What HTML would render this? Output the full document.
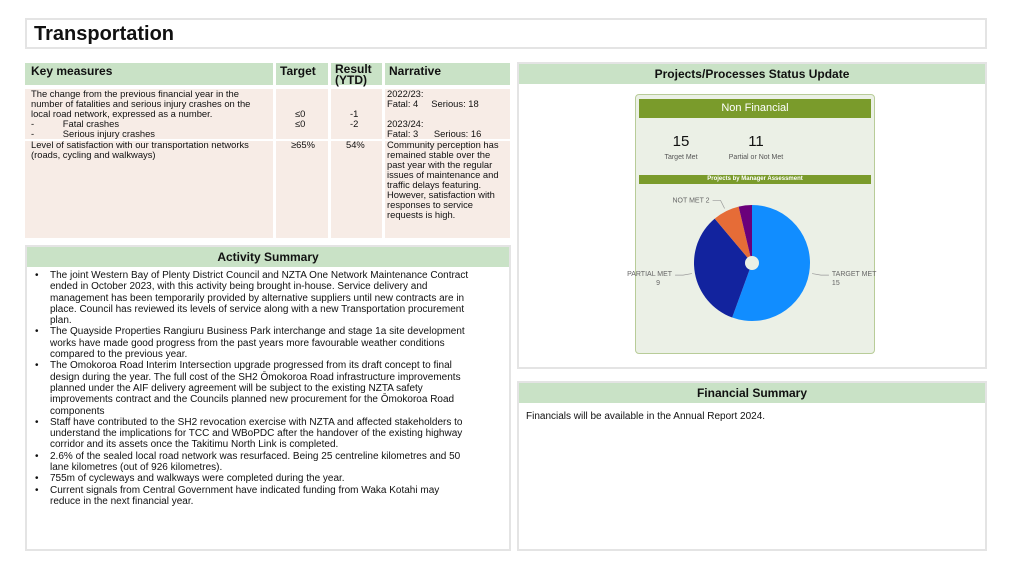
<!DOCTYPE html>
<html><head><meta charset="utf-8">
<style>
*{box-sizing:border-box;margin:0;padding:0}
body{width:1011px;height:569px;background:#fff;font-family:"Liberation Sans",sans-serif;color:#111;position:relative;overflow:hidden}
.box{position:absolute;border:1px solid #e2e2e2;background:#fff}
.hdr{position:absolute;background:#c9e2c6;font-weight:bold;font-size:12px;text-align:center}
.t{position:absolute;font-size:9.4px;line-height:10px;white-space:nowrap}
.cell{position:absolute;background:#f7ece6}
ul{list-style:none}
li{position:relative;padding-left:23px;font-size:10px;line-height:11.3px;white-space:nowrap}
li:before{content:"•";position:absolute;left:8px}
</style></head><body>
<div class="box" style="left:25px;top:18px;width:962px;height:31px;border:2px solid #e4e4e4">
 <div style="position:absolute;left:7px;top:3px;font-size:20px;font-weight:bold">Transportation</div>
</div>

<div class="box" style="left:23px;top:61px;width:490px;height:180px;border:none">
 <div class="hdr" style="left:2px;top:2px;width:248px;height:22px;text-align:left;padding:1px 6px">Key measures</div>
 <div class="hdr" style="left:253px;top:2px;width:52px;height:22px;text-align:left;padding:1px 4px">Target</div>
 <div class="hdr" style="left:308px;top:2px;width:51px;height:22px;text-align:left;padding:1px 4px;line-height:11px">Result<br>(YTD)</div>
 <div class="hdr" style="left:362px;top:2px;width:125px;height:22px;text-align:left;padding:1px 4px">Narrative</div>
 <div class="cell" style="left:2px;top:28px;width:248px;height:149px"></div>
 <div class="cell" style="left:253px;top:28px;width:52px;height:149px"></div>
 <div class="cell" style="left:308px;top:28px;width:51px;height:149px"></div>
 <div class="cell" style="left:362px;top:28px;width:125px;height:149px"></div>
 <div style="position:absolute;left:2px;top:78px;width:485px;height:2px;background:#fff"></div>
 <div class="t" style="left:8px;top:28px">The change from the previous financial year in the<br>number of fatalities and serious injury crashes on the<br>local road network, expressed as a number.<br>-&nbsp;&nbsp;&nbsp;&nbsp;&nbsp;&nbsp;&nbsp;&nbsp;&nbsp;&nbsp;&nbsp;Fatal crashes<br>-&nbsp;&nbsp;&nbsp;&nbsp;&nbsp;&nbsp;&nbsp;&nbsp;&nbsp;&nbsp;&nbsp;Serious injury crashes</div>
 <div class="t" style="left:272px;top:48px">≤0<br>≤0</div>
 <div class="t" style="left:327px;top:48px">-1<br>-2</div>
 <div class="t" style="left:364px;top:28px">2022/23:<br>Fatal: 4&nbsp;&nbsp;&nbsp;&nbsp;&nbsp;Serious: 18<br><br>2023/24:<br>Fatal: 3&nbsp;&nbsp;&nbsp;&nbsp;&nbsp;&nbsp;Serious: 16</div>
 <div class="t" style="left:8px;top:79px">Level of satisfaction with our transportation networks<br>(roads, cycling and walkways)</div>
 <div class="t" style="left:268px;top:79px">≥65%</div>
 <div class="t" style="left:323px;top:79px">54%</div>
 <div class="t" style="left:364px;top:79px">Community perception has<br>remained stable over the<br>past year with the regular<br>issues of maintenance and<br>traffic delays featuring.<br>However, satisfaction with<br>responses to service<br>requests is high.</div>
</div>

<div class="box" style="left:25px;top:245px;width:486px;height:306px;border:2px solid #e4e4e4">
 <div class="hdr" style="left:0;top:0;width:482px;height:20px;line-height:20px">Activity Summary</div>
 <ul style="position:absolute;left:0;top:23px">
  <li>The joint Western Bay of Plenty District Council and NZTA One Network Maintenance Contract<br>ended in October 2023, with this activity being brought in-house. Service delivery and<br>management has been temporarily provided by alternative suppliers until new contracts are in<br>place. Council has reviewed its levels of service along with a new Transportation procurement<br>plan.</li>
  <li>The Quayside Properties Rangiuru Business Park interchange and stage 1a site development<br>works have made good progress from the past years more favourable weather conditions<br>compared to the previous year.</li>
  <li>The Omokoroa Road Interim Intersection upgrade progressed from its draft concept to final<br>design during the year. The full cost of the SH2 Ōmokoroa Road infrastructure improvements<br>planned under the AIF delivery agreement will be subject to the existing NZTA safety<br>improvements contract and the Councils planned new procurement for the Ōmokoroa Road<br>components</li>
  <li>Staff have contributed to the SH2 revocation exercise with NZTA and affected stakeholders to<br>understand the implications for TCC and WBoPDC after the handover of the existing highway<br>corridor and its assets once the Takitimu North Link is completed.</li>
  <li>2.6% of the sealed local road network was resurfaced. Being 25 centreline kilometres and 50<br>lane kilometres (out of 926 kilometres).</li>
  <li>755m of cycleways and walkways were completed during the year.</li>
  <li>Current signals from Central Government have indicated funding from Waka Kotahi may<br>reduce in the next financial year.</li>
 </ul>
</div>

<div class="box" style="left:517px;top:62px;width:470px;height:307px;border:2px solid #e4e4e4">
 <div class="hdr" style="left:0;top:0;width:466px;height:20px;line-height:20px">Projects/Processes Status Update</div>
 <div style="position:absolute;left:116px;top:30px;width:240px;height:260px;background:#ebf0e6;border:1px solid #b8cc98;border-radius:4px">
  <div style="position:absolute;left:3px;top:4px;width:232px;height:19px;background:#7a9b2b;color:#fff;font-size:11px;text-align:center;line-height:19px">Non Financial</div>
  <div style="position:absolute;left:20px;top:38px;width:50px;text-align:center;font-size:15px">15</div>
  <div style="position:absolute;left:10px;top:59px;width:70px;text-align:center;font-size:7px;color:#555">Target Met</div>
  <div style="position:absolute;left:95px;top:38px;width:50px;text-align:center;font-size:15px">11</div>
  <div style="position:absolute;left:80px;top:59px;width:80px;text-align:center;font-size:7px;color:#555">Partial or Not Met</div>
  <div style="position:absolute;left:3px;top:80px;width:232px;height:9px;background:#7a9b2b;color:#fff;font-size:6px;font-weight:bold;text-align:center;line-height:9px">Projects by Manager Assessment</div>
 </div>
 <svg id="pie" width="470" height="307" style="position:absolute;left:-2px;top:-2px"></svg>
</div>

<div class="box" style="left:517px;top:381px;width:470px;height:170px;border:2px solid #e4e4e4">
 <div class="hdr" style="left:0;top:0;width:466px;height:20px;line-height:20px">Financial Summary</div>
 <div style="position:absolute;left:7px;top:28px;font-size:10px">Financials will be available in the Annual Report 2024.</div>
</div>

<script>
const categories=["TARGET MET","PARTIAL MET","NOT MET","OTHER"];
const values=[15,9,2,1];
const colors=["#118dff","#12239e","#e66c37","#6b007b"];
const showLabel=[true,true,true,false];
const svg=document.getElementById('pie');
const NS="http://www.w3.org/2000/svg";
const cx=752-517,cy=263-62,r=58;
const total=values.reduce((a,b)=>a+b,0);
let a0=0;
function pt(a,rr){return [cx+rr*Math.sin(a),cy-rr*Math.cos(a)];}
values.forEach((v,i)=>{
 const a1=a0+v/total*2*Math.PI;
 const [x0,y0]=pt(a0,r),[x1,y1]=pt(a1,r);
 const p=document.createElementNS(NS,'path');
 p.setAttribute('d',`M${cx},${cy}L${x0},${y0}A${r},${r} 0 ${a1-a0>Math.PI?1:0} 1 ${x1},${y1}Z`);
 p.setAttribute('fill',colors[i]);
 
 
 svg.appendChild(p);
 if(showLabel[i]){
  const m=(a0+a1)/2;
  const [ex,ey]=pt(m,r+3),[lx,ly]=pt(m,r+12);
  const right=Math.sin(m)>0;
  const ln=document.createElementNS(NS,'polyline');
  const hx=lx+(right?8:-8);
  ln.setAttribute('points',`${ex},${ey} ${lx},${ly} ${hx},${ly}`);
  ln.setAttribute('fill','none');ln.setAttribute('stroke','#999');ln.setAttribute('stroke-width','0.7');
  svg.appendChild(ln);
  const t=document.createElementNS(NS,'text');
  t.setAttribute('x',hx+(right?3:-3));t.setAttribute('y',ly+(i===2?2:1));
  t.setAttribute('font-size','7');t.setAttribute('fill','#666');
  t.setAttribute('text-anchor',right?'start':'end');
  
  
  if(i===2){t.textContent=categories[i]+' '+values[i];}
  else{
   const s1=document.createElementNS(NS,'tspan');s1.textContent=categories[i];
   const s2=document.createElementNS(NS,'tspan');s2.textContent=values[i];
   s2.setAttribute('x',right?hx+3:hx-15);s2.setAttribute('dy','9');
   t.appendChild(s1);t.appendChild(s2);
  }
  svg.appendChild(t);
 }
 a0=a1;
});
const hole=document.createElementNS(NS,'circle');
hole.setAttribute('cx',cx);hole.setAttribute('cy',cy);hole.setAttribute('r',7);hole.setAttribute('fill','#ebf0e6');


svg.appendChild(hole);
</script>
</body></html>
